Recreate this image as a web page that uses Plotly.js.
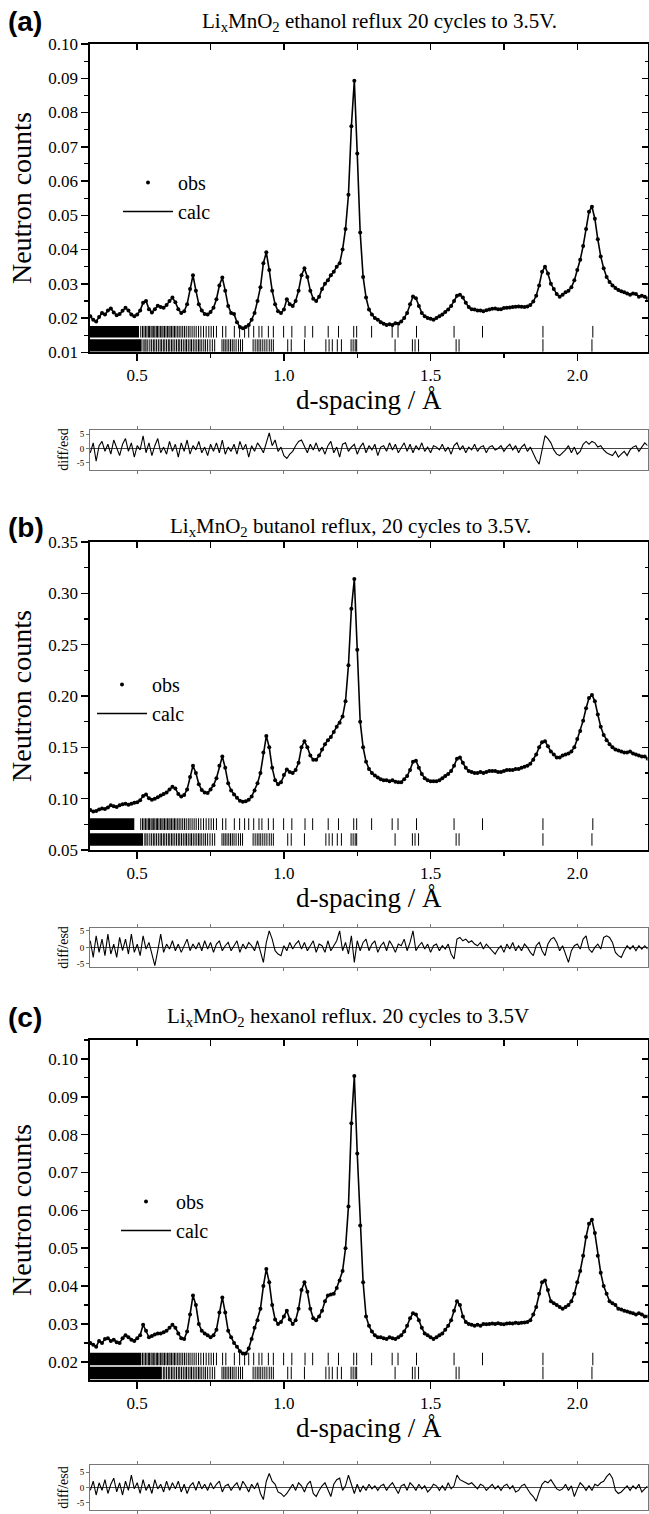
<!DOCTYPE html>
<html><head><meta charset="utf-8">
<script src="https://cdn.plot.ly/plotly-3.0.1.min.js"></script>
<style>html,body{margin:0;padding:0;background:#fff}#chart{width:649px;height:1514px}</style>
</head><body><div id="chart"></div><script>
// d-spacing (Å) at which the curves were read
const dSpacing = [
0.34,0.35,0.36,0.37,0.38,0.39,0.40,0.41,0.42,0.43,
0.44,0.45,0.46,0.47,0.48,0.49,0.50,0.51,0.52,0.53,
0.54,0.55,0.56,0.57,0.58,0.59,0.60,0.61,0.62,0.63,
0.64,0.65,0.66,0.67,0.68,0.69,0.70,0.71,0.72,0.73,
0.74,0.75,0.76,0.77,0.78,0.79,0.80,0.81,0.82,0.83,
0.84,0.85,0.86,0.87,0.88,0.89,0.90,0.91,0.92,0.93,
0.94,0.95,0.96,0.97,0.98,0.99,1.00,1.01,1.02,1.03,
1.04,1.05,1.06,1.07,1.08,1.09,1.10,1.11,1.12,1.13,
1.14,1.15,1.16,1.17,1.18,1.19,1.20,1.21,1.22,1.23,
1.24,1.25,1.26,1.27,1.28,1.29,1.30,1.31,1.32,1.33,
1.34,1.35,1.36,1.37,1.38,1.39,1.40,1.41,1.42,1.43,
1.44,1.45,1.46,1.47,1.48,1.49,1.50,1.51,1.52,1.53,
1.54,1.55,1.56,1.57,1.58,1.59,1.60,1.61,1.62,1.63,
1.64,1.65,1.66,1.67,1.68,1.69,1.70,1.71,1.72,1.73,
1.74,1.75,1.76,1.77,1.78,1.79,1.80,1.81,1.82,1.83,
1.84,1.85,1.86,1.87,1.88,1.89,1.90,1.91,1.92,1.93,
1.94,1.95,1.96,1.97,1.98,1.99,2.00,2.01,2.02,2.03,
2.04,2.05,2.06,2.07,2.08,2.09,2.10,2.11,2.12,2.13,
2.14,2.15,2.16,2.17,2.18,2.19,2.20,2.21,2.22,2.23,
2.24];

// (a) ethanol reflux: neutron counts
const countsA = [
.0205,.0195,.0190,.0203,.0215,.0210,.0222,.0228,.0216,.0208,
.0212,.0221,.0230,.0222,.0210,.0205,.0210,.0222,.0245,.0250,
.0226,.0216,.0226,.0236,.0232,.0230,.0238,.0250,.0260,.0246,
.0226,.0215,.0220,.0240,.0285,.0325,.0280,.0240,.0222,.0212,
.0210,.0218,.0230,.0255,.0295,.0318,.0280,.0235,.0215,.0212,
.0188,.0174,.0170,.0174,.0180,.0195,.0215,.0250,.0290,.0360,
.0392,.0340,.0280,.0240,.0220,.0215,.0225,.0255,.0240,.0235,
.0250,.0280,.0325,.0345,.0320,.0280,.0256,.0250,.0262,.0285,
.0300,.0310,.0325,.0335,.0350,.0360,.0400,.0460,.0560,.0760,
.0893,.0680,.0450,.0320,.0260,.0225,.0210,.0200,.0195,.0188,
.0183,.0180,.0182,.0180,.0185,.0183,.0190,.0200,.0215,.0240,
.0263,.0258,.0235,.0215,.0205,.0200,.0198,.0195,.0200,.0205,
.0210,.0218,.0225,.0235,.0250,.0265,.0268,.0260,.0245,.0232,
.0226,.0225,.0222,.0222,.0220,.0223,.0225,.0227,.0228,.0226,
.0226,.0229,.0230,.0231,.0232,.0233,.0234,.0233,.0232,.0234,
.0238,.0248,.0265,.0295,.0335,.0350,.0330,.0300,.0285,.0270,
.0262,.0268,.0275,.0280,.0290,.0310,.0340,.0370,.0410,.0460,
.0510,.0525,.0490,.0430,.0380,.0345,.0320,.0305,.0295,.0288,
.0282,.0278,.0275,.0272,.0268,.0272,.0270,.0262,.0265,.0262,
.0258];
const diffA = [
-1.5,2.0,-4.5,1.0,2.5,-1.0,1.5,-2.0,3.0,0.5,
-2.5,1.5,3.5,-1.0,2.0,-3.0,1.0,-0.5,4.5,-1.5,
2.0,-2.5,1.0,3.5,-1.5,0.5,-2.0,2.5,-1.0,1.5,
-3.0,2.0,-1.0,3.0,-2.0,1.0,-0.5,2.5,-1.5,0.5,
-2.5,1.5,-1.0,2.0,-1.5,3.0,-2.0,0.5,-1.0,1.5,
-2.0,2.5,-0.5,1.5,-3.0,1.0,-1.0,2.0,0.5,-1.5,
2.0,5.5,1.0,3.0,-1.0,0.5,-2.5,-3.5,-2.0,-1.0,
1.0,2.5,3.0,0.5,-1.5,1.5,-0.5,2.0,-1.0,0.5,
-2.0,1.0,2.5,-1.5,0.5,-3.0,1.5,2.0,-1.0,0.5,
1.5,-2.0,0.5,2.0,-1.5,1.0,-0.5,1.5,-2.5,0.5,
1.0,-1.0,2.0,-0.5,1.5,-1.5,0.5,2.0,-1.0,1.5,
-1.5,1.0,-0.5,2.0,-1.0,0.5,-1.5,1.0,0.5,-0.5,
1.5,-1.0,0.5,-2.0,1.0,2.0,-0.5,1.0,-1.5,0.5,
-0.5,1.5,-1.0,0.5,1.0,-1.5,0.5,1.0,-0.5,0.0,
1.0,-1.0,0.5,1.5,-0.5,1.0,-1.5,0.5,1.5,-1.0,
0.5,-2.0,-4.0,-5.5,-1.0,4.5,3.5,2.0,-0.5,-2.0,
-2.5,-1.5,-0.5,1.0,-1.5,0.5,-2.0,-1.0,1.5,2.5,
1.5,2.5,2.0,0.5,1.0,-0.5,-1.5,-2.0,-2.5,-1.0,
-3.0,-2.0,-1.0,-2.5,-0.5,0.5,1.0,-1.0,0.5,2.0,
1.0];

// (b) butanol reflux
const countsB = [
.0890,.0875,.0880,.0895,.0905,.0900,.0915,.0935,.0925,.0920,
.0935,.0945,.0950,.0940,.0950,.0960,.0965,.0985,.1025,.1040,
.1005,.0990,.1000,.1015,.1030,.1045,.1060,.1090,.1115,.1100,
.1045,.1020,.1035,.1090,.1210,.1320,.1250,.1140,.1085,.1060,
.1055,.1090,.1130,.1200,.1320,.1410,.1300,.1150,.1080,.1040,
.1010,.0980,.0970,.0975,.0990,.1020,.1080,.1150,.1250,.1450,
.1610,.1500,.1300,.1180,.1140,.1160,.1230,.1285,.1260,.1250,
.1280,.1350,.1500,.1560,.1500,.1420,.1380,.1380,.1420,.1480,
.1530,.1570,.1600,.1650,.1700,.1740,.1800,.1950,.2300,.2850,
.3140,.2450,.1750,.1500,.1360,.1290,.1250,.1225,.1205,.1190,
.1180,.1180,.1170,.1180,.1165,.1160,.1160,.1190,.1220,.1280,
.1360,.1370,.1300,.1240,.1200,.1180,.1170,.1170,.1170,.1180,
.1200,.1220,.1240,.1270,.1320,.1390,.1400,.1350,.1300,.1270,
.1260,.1250,.1250,.1260,.1250,.1260,.1270,.1270,.1270,.1260,
.1260,.1270,.1280,.1280,.1280,.1290,.1290,.1300,.1310,.1320,
.1340,.1380,.1430,.1500,.1550,.1560,.1510,.1460,.1430,.1400,
.1400,.1420,.1430,.1440,.1460,.1500,.1580,.1660,.1760,.1880,
.1980,.2010,.1950,.1820,.1700,.1620,.1570,.1530,.1500,.1480,
.1470,.1460,.1450,.1450,.1460,.1440,.1430,.1420,.1410,.1410,
.1390];
const diffB = [
2.0,-3.0,3.5,-1.5,2.5,-2.5,4.0,-2.0,1.0,-3.0,
3.0,-1.0,2.5,-2.0,4.0,-1.5,1.0,-2.5,3.5,-0.5,
1.5,-2.0,-5.5,-1.0,4.0,-1.5,1.0,-0.5,2.0,-1.0,
1.0,-1.5,0.5,2.5,-1.0,1.0,-0.5,1.5,-1.0,2.0,
-0.5,1.5,-1.5,1.0,2.0,-1.0,0.5,1.5,-1.0,0.5,
2.0,-1.5,1.0,-0.5,1.5,0.5,-1.0,2.0,-1.5,-4.5,
1.5,5.0,2.5,-1.0,-2.0,-2.5,0.5,-1.0,1.5,-0.5,
1.0,2.0,-0.5,1.5,-1.0,0.5,2.0,-1.5,1.0,0.5,
-1.5,2.0,-1.0,0.5,2.0,5.0,-1.0,1.5,-2.0,3.5,
-4.5,2.0,-1.0,1.5,2.5,-1.0,1.0,2.0,-1.5,0.5,
1.5,-1.0,2.0,0.5,-1.5,1.0,0.5,2.5,-1.0,1.5,
5.0,-1.0,0.5,1.5,-0.5,1.0,-1.5,0.5,1.0,-1.0,
0.5,-0.5,1.0,-2.0,-3.5,2.5,3.0,2.0,2.5,1.5,
2.0,1.0,0.5,1.5,-0.5,1.0,0.0,-1.0,-2.0,-0.5,
0.5,-1.5,1.0,-0.5,1.5,-1.0,0.5,-1.0,1.0,0.0,
-1.5,-2.5,0.5,1.5,-1.0,-2.5,1.0,2.5,3.0,1.5,
-1.0,0.5,-2.0,-4.5,-1.0,0.5,1.0,-0.5,2.5,3.5,
-0.5,-1.5,0.0,1.0,-0.5,3.0,3.5,3.0,1.5,-1.5,
-2.5,-3.0,-1.0,0.5,-0.5,0.5,-1.0,0.5,-0.5,0.5,
-0.5];

// (c) hexanol reflux
const countsC = [
.0250,.0245,.0240,.0255,.0250,.0260,.0262,.0255,.0258,.0252,
.0250,.0262,.0270,.0265,.0258,.0255,.0262,.0270,.0298,.0282,
.0265,.0268,.0272,.0275,.0275,.0278,.0282,.0290,.0298,.0290,
.0275,.0262,.0260,.0280,.0325,.0375,.0350,.0300,.0282,.0275,
.0270,.0265,.0270,.0285,.0330,.0370,.0330,.0282,.0265,.0250,
.0240,.0228,.0222,.0222,.0235,.0260,.0290,.0310,.0340,.0400,
.0445,.0410,.0350,.0312,.0300,.0305,.0320,.0335,.0312,.0300,
.0310,.0340,.0390,.0410,.0385,.0340,.0315,.0310,.0320,.0335,
.0360,.0375,.0378,.0380,.0395,.0415,.0440,.0500,.0610,.0830,
.0955,.0750,.0560,.0410,.0320,.0295,.0280,.0270,.0265,.0265,
.0262,.0260,.0265,.0262,.0260,.0265,.0270,.0280,.0295,.0315,
.0328,.0325,.0310,.0290,.0275,.0270,.0265,.0260,.0265,.0270,
.0275,.0285,.0295,.0310,.0335,.0360,.0350,.0320,.0305,.0300,
.0298,.0295,.0298,.0295,.0300,.0299,.0300,.0301,.0300,.0302,
.0300,.0299,.0301,.0302,.0301,.0303,.0302,.0303,.0304,.0305,
.0310,.0325,.0345,.0380,.0410,.0415,.0390,.0360,.0355,.0350,
.0345,.0340,.0345,.0350,.0360,.0380,.0410,.0440,.0480,.0530,
.0565,.0575,.0540,.0480,.0435,.0400,.0380,.0360,.0355,.0350,
.0340,.0338,.0335,.0333,.0330,.0328,.0325,.0328,.0325,.0320,
.0320];
const diffC = [
-1.0,2.0,-2.5,1.5,-1.0,2.5,-2.0,1.0,3.0,-1.5,
1.5,-2.5,2.0,-1.0,4.0,-0.5,1.5,-2.0,2.5,-1.0,
1.0,-2.0,2.5,-0.5,1.0,-1.5,2.0,-1.0,1.5,-0.5,
2.0,-1.5,1.0,-2.0,0.5,1.5,-1.0,2.0,-0.5,1.0,
-1.0,1.5,-0.5,1.0,2.0,-1.5,0.5,1.0,-1.0,0.5,
1.5,-1.0,2.0,0.5,-1.5,1.0,-0.5,1.5,-2.0,-4.0,
2.0,4.5,2.0,1.0,-1.5,-2.0,-3.0,-2.0,-0.5,1.0,
-1.0,1.5,0.5,-1.5,1.0,2.0,-2.0,-3.0,-1.0,0.5,
1.5,-1.0,-3.0,1.0,2.5,3.0,-1.0,0.5,4.0,1.0,
-2.0,1.0,-1.5,0.5,-1.0,1.0,-0.5,0.5,-1.0,0.5,
1.0,-1.0,0.5,1.5,-0.5,-2.0,0.5,1.0,-1.0,1.5,
0.5,-1.0,1.0,-0.5,0.5,-1.5,-0.5,1.0,0.5,-1.0,
0.5,-1.0,1.5,-0.5,0.5,4.0,2.5,2.0,1.5,1.0,
1.5,0.5,-0.5,1.0,0.5,-1.0,0.0,1.0,-0.5,0.5,
-1.0,0.5,1.0,-0.5,0.5,-1.5,-1.0,0.5,1.0,-0.5,
-2.0,-3.0,-4.5,-1.5,1.0,2.0,1.5,2.5,1.0,-0.5,
-1.0,-0.5,1.0,-1.0,0.5,-3.0,-0.5,1.5,0.5,-1.0,
0.5,-1.0,1.0,0.5,1.5,2.0,3.5,4.5,3.0,-1.0,
-2.0,-1.5,-0.5,0.5,-1.0,0.5,-0.5,1.0,-1.5,-0.5,
0.5];

// reflection positions (Å), upper row (phase 1) and lower row (phase 2)
const reflPhase1 = [0.512,0.518,0.523,0.528,0.533,0.538,0.542,0.547,0.551,0.556,0.560,0.565,0.569,0.574,0.579,0.584,0.588,0.593,0.598,0.603,0.608,0.612,0.617,0.622,0.627,0.632,0.638,0.643,0.649,0.655,0.661,0.667,0.674,0.680,0.687,0.694,0.701,0.709,0.717,0.726,0.735,0.744,0.752,0.760,0.770,0.791,0.802,0.831,0.849,0.866,0.880,0.897,0.915,0.925,0.947,0.964,0.999,1.027,1.072,1.098,1.151,1.186,1.238,1.248,1.299,1.369,1.389,1.452,1.580,1.677,1.883,2.053];
const reflPhase2 = [0.520,0.526,0.530,0.536,0.543,0.549,0.555,0.560,0.566,0.572,0.578,0.583,0.589,0.594,0.600,0.606,0.611,0.617,0.622,0.628,0.634,0.640,0.645,0.651,0.657,0.663,0.668,0.674,0.680,0.685,0.691,0.697,0.703,0.709,0.714,0.720,0.727,0.733,0.740,0.748,0.756,0.764,0.789,0.795,0.800,0.806,0.812,0.818,0.824,0.830,0.837,0.845,0.852,0.859,0.895,0.902,0.909,0.915,0.921,0.928,0.935,0.942,0.950,0.957,0.964,1.013,1.025,1.070,1.143,1.154,1.165,1.182,1.196,1.229,1.236,1.243,1.248,1.379,1.438,1.447,1.459,1.587,1.597,1.883,2.050];
// d below which reflection rows are unresolved (solid)
const denseEndA = [0.506, 0.515];
const denseEndB = [0.490, 0.520];
const denseEndC = [0.514, 0.584];

const panelTitles = [
 'Li<sub>x</sub>MnO<sub>2</sub> ethanol reflux 20 cycles to 3.5V.',
 'Li<sub>x</sub>MnO<sub>2</sub> butanol reflux, 20 cycles to 3.5V.',
 'Li<sub>x</sub>MnO<sub>2</sub> hexanol reflux. 20 cycles to 3.5V'];
const panelLabels = ['(a)','(b)','(c)'];

// ---------- layout configuration (positions / styles) ----------
const W = 649, H = 1514;
const SERIF = '"Liberation Serif", "Times New Roman", serif';
const SANS = '"Liberation Sans", Arial, sans-serif';
const xRange = [0.339, 2.2394];
const xDom = [90/W, 647.5/W];
const py = p => 1 - p/H;
const cfg = [
 {counts: countsA, diff: diffA, dense: denseEndA, yRange:[0.01,0.10], dtick:0.01, minor:0.005,
  main:[352.3,44], diffPx:[469.5,429.5], diffRange:[-7.4,6.7], rows:[[0.0143,0.0177],[0.0102,0.0138]],
  titleX:379, titleY:22, labelY:22, legend:{x:118, y:163}},
 {counts: countsB, diff: diffB, dense: denseEndB, yRange:[0.05,0.35], dtick:0.05, minor:0.025,
  main:[850,542], diffPx:[967.3,927.5], diffRange:[-6,6], rows:[[0.0695,0.0809],[0.0542,0.0663]],
  titleX:350, titleY:527, labelY:527, legend:{x:92, y:665}},
 {counts: countsC, diff: diffC, dense: denseEndC, yRange:[0.0152,0.105], dtick:0.01, minor:0.005,
  main:[1380,1040], diffPx:[1510,1465], diffRange:[-7.4,7.3], rows:[[0.0191,0.0224],[0.0154,0.0187]],
  titleX:348, titleY:1017, labelY:1017, legend:{x:116, y:1182}}
];

const traces = [];
const layout = {
  width: W, height: H, margin:{l:0,r:0,t:0,b:0},
  paper_bgcolor:'#fff', plot_bgcolor:'rgba(0,0,0,0)',
  font:{family:SERIF, color:'#000'},
  showlegend:true, annotations:[]
};

function tickLines(pos, lo, hi, start) {
  const x = [], y = [];
  pos.forEach(p => { if (p > start) { x.push(p,p,null); y.push(lo,hi,null); } });
  return {x, y};
}

cfg.forEach((c, k) => {
  const n = 2*k + 1;              // main axes index
  const xm = n===1 ? 'x' : 'x'+n, ym = n===1 ? 'y' : 'y'+n;
  const xd = 'x'+(n+1), yd = 'y'+(n+1);
  const xo = 'x'+(7+k), yo = 'y'+(7+k);
  const leg = k===0 ? 'legend' : 'legend'+(k+1);

  // unresolved reflection bands
  c.rows.forEach((r, j) => {
    traces.push({x:[xRange[0], c.dense[j], c.dense[j], xRange[0], xRange[0]], y:[r[0], r[0], r[1], r[1], r[0]],
      xaxis:xm, yaxis:ym, mode:'lines', fill:'toself', fillcolor:'#000', line:{width:0},
      showlegend:false, hoverinfo:'skip'});
  });
  // reflection tick marks
  [reflPhase1, reflPhase2].forEach((pos, j) => {
    const t = tickLines(pos, c.rows[j][0], c.rows[j][1], c.dense[j]);
    traces.push({x:t.x, y:t.y, xaxis:xm, yaxis:ym, mode:'lines', line:{color:'#000', width:1},
      showlegend:false, hoverinfo:'skip'});
  });
  // observed and calculated
  traces.push({x:dSpacing, y:c.counts, xaxis:xm, yaxis:ym, mode:'markers', name:'obs', legend:leg,
    marker:{color:'#000', size:4}});
  traces.push({x:dSpacing, y:c.counts, xaxis:xm, yaxis:ym, mode:'lines', name:'calc', legend:leg,
    line:{color:'#000', width:1.6}});
  // difference / esd
  traces.push({x:dSpacing, y:c.diff, xaxis:xd, yaxis:yd, mode:'lines', showlegend:false,
    line:{color:'#000', width:1.1}});
  // mirror (top/right) axes carrier
  traces.push({x:[], y:[], xaxis:xo, yaxis:yo, mode:'markers', showlegend:false, hoverinfo:'skip'});

  const yDom = [py(c.main[0]), py(c.main[1])];
  const dDom = [py(c.diffPx[0]), py(c.diffPx[1])];
  const kx = xm.replace('x','xaxis'), ky = ym.replace('y','yaxis');
  layout[kx] = {domain:xDom, anchor:ym, range:xRange, tick0:0.5, dtick:0.5, tickformat:'.1f',
    ticks:'outside', ticklen:7, tickwidth:1.5, tickcolor:'#000',
    minor:{dtick:0.25, tick0:0.5, ticks:'outside', ticklen:4, tickwidth:1.2, tickcolor:'#000', showgrid:false},
    showline:true, linewidth:1.6, linecolor:'#000', showgrid:false, zeroline:false,
    tickfont:{family:SERIF, size:17},
    title:{text:'d-spacing / Å', font:{family:SERIF, size:27}, standoff:3}};
  layout[ky] = {domain:yDom, anchor:xm, range:c.yRange, tick0:0, dtick:c.dtick, tickformat:'.2f',
    ticks:'outside', ticklen:7, tickwidth:1.5, tickcolor:'#000',
    minor:{dtick:c.minor, ticks:'outside', ticklen:4, tickwidth:1.2, tickcolor:'#000', showgrid:false},
    showline:true, linewidth:1.6, linecolor:'#000', showgrid:false, zeroline:false,
    tickfont:{family:SERIF, size:17},
    title:{text:'Neutron counts', font:{family:SERIF, size:28}, standoff:8}};
  layout['xaxis'+(7+k)] = {overlaying:xm, anchor:yo, side:'top', range:xRange, tick0:0.5, dtick:0.25,
    ticks:'inside', ticklen:6, tickwidth:1.5, tickcolor:'#000', showticklabels:false,
    showline:true, linewidth:1.6, linecolor:'#000', showgrid:false, zeroline:false};
  layout['yaxis'+(7+k)] = {overlaying:ym, anchor:xo, side:'right', range:c.yRange, tick0:0, dtick:c.dtick,
    ticks:'inside', ticklen:6, tickwidth:1.5, tickcolor:'#000', showticklabels:false,
    minor:{dtick:c.minor, ticks:'inside', ticklen:3, tickwidth:1.2, tickcolor:'#000', showgrid:false},
    showline:true, linewidth:1.6, linecolor:'#000', showgrid:false, zeroline:false};
  layout['xaxis'+(n+1)] = {domain:xDom, anchor:yd, range:xRange, tick0:0.5, dtick:0.25,
    ticks:'outside', ticklen:3, tickwidth:1, tickcolor:'#777', showticklabels:false,
    showline:true, linewidth:1, linecolor:'#777', mirror:'ticks', showgrid:false, zeroline:false};
  layout['yaxis'+(n+1)] = {domain:dDom, anchor:xd, range:c.diffRange, tickvals:[-5,0,5], ticktext:['-5','0','5'],
    ticks:'outside', ticklen:3, tickwidth:1, tickcolor:'#777', tickfont:{family:SERIF, size:9},
    showline:true, linewidth:1, linecolor:'#777', mirror:'ticks', showgrid:false,
    zeroline:true, zerolinecolor:'#444', zerolinewidth:1,
    title:{text:'diff/esd', font:{family:SERIF, size:14}, standoff:4}};

  layout[leg] = {x:c.legend.x/W, y:py(c.legend.y), xanchor:'left', yanchor:'top',
    bgcolor:'rgba(0,0,0,0)', font:{family:SERIF, size:20}, itemwidth:50, tracegroupgap:0};

  layout.annotations.push({xref:'paper', yref:'paper', x:c.titleX/W, y:py(c.titleY), xanchor:'center', yanchor:'middle',
    text:panelTitles[k], showarrow:false, font:{family:SERIF, size:21}});
  layout.annotations.push({xref:'paper', yref:'paper', x:6/W, y:py(c.labelY), xanchor:'left', yanchor:'middle',
    text:'<b>'+panelLabels[k]+'</b>', showarrow:false, font:{family:SANS, size:28}});
});

Plotly.newPlot('chart', traces, layout, {displayModeBar:false, staticPlot:true});
</script></body></html>
